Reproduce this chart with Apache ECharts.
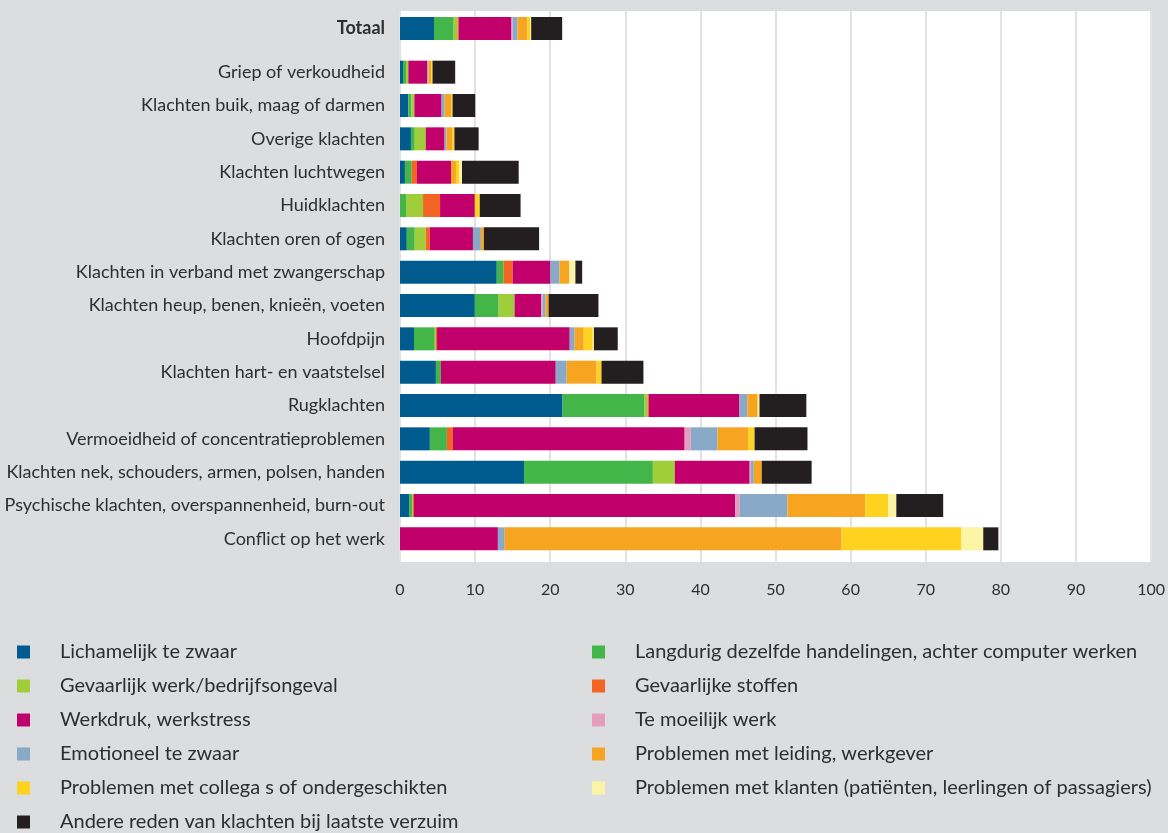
<!DOCTYPE html>
<html>
<head>
<meta charset="utf-8">
<script src="https://cdn.jsdelivr.net/npm/echarts@6/dist/echarts.min.js"></script>
<style>
  html, body { margin: 0; padding: 0; background: #dcdddf; }
  #chart { width: 1168px; height: 833px; }
</style>
</head>
<body>
<div id="chart"></div>
<script>
// ---- DATA ----
const totalLabel = 'Totaal';
const categories = [
  'Griep of verkoudheid',
  'Klachten buik, maag of darmen',
  'Overige klachten',
  'Klachten luchtwegen',
  'Huidklachten',
  'Klachten oren of ogen',
  'Klachten in verband met zwangerschap',
  'Klachten heup, benen, knieën, voeten',
  'Hoofdpijn',
  'Klachten hart- en vaatstelsel',
  'Rugklachten',
  'Vermoeidheid of concentratieproblemen',
  'Klachten nek, schouders, armen, polsen, handen',
  'Psychische klachten, overspannenheid, burn-out',
  'Conflict op het werk'
];
const seriesNames = [
  'Lichamelijk te zwaar',
  'Langdurig dezelfde handelingen, achter computer werken',
  'Gevaarlijk werk/bedrijfsongeval',
  'Gevaarlijke stoffen',
  'Werkdruk, werkstress',
  'Te moeilijk werk',
  'Emotioneel te zwaar',
  'Problemen met leiding, werkgever',
  'Problemen met collega s of ondergeschikten',
  'Problemen met klanten (patiënten, leerlingen of passagiers)',
  'Andere reden van klachten bij laatste verzuim'
];
const seriesColors = ['#005b8f','#44b649','#a0cd3a','#f26522','#c1006b','#e69dbd','#89a9c9','#f7a521','#ffd21f','#fbf4a4','#231f20'];
// first value = Totaal, then the 15 categories in order
const lichamelijk    = [4.5, 0.4, 1.1, 1.45, 0.65, 0, 0.9, 12.8, 9.9, 1.85, 4.75, 21.5, 3.95, 16.4, 1.2, 0];
const langdurig      = [2.6, 0.4, 0.4, 0.5, 0.9, 0.8, 1.05, 0.9, 3.15, 2.75, 0.65, 10.85, 2.25, 17.05, 0.4, 0];
const gevaarlijkWerk = [0.5, 0.3, 0.4, 1.45, 0, 2.25, 1.45, 0, 2.1, 0.15, 0, 0.4, 0, 2.9, 0.1, 0];
const stoffen        = [0.15, 0, 0, 0, 0.7, 2.25, 0.55, 1.2, 0, 0.15, 0, 0.15, 0.8, 0, 0.15, 0];
const werkdruk       = [7.0, 2.5, 3.6, 2.5, 4.5, 4.6, 5.7, 5.0, 3.55, 17.55, 15.2, 12.0, 30.65, 9.9, 42.5, 12.95];
const moeilijk       = [0.15, 0, 0, 0, 0, 0, 0, 0, 0.15, 0, 0, 0, 0.8, 0.15, 0.55, 0];
const emotioneel     = [0.65, 0.15, 0.4, 0.25, 0, 0, 1.05, 1.2, 0.4, 0.65, 1.45, 1.05, 3.55, 0.4, 6.35, 0.9];
const leiding        = [1.3, 0.4, 0.9, 0.8, 0.65, 0, 0.4, 1.3, 0.4, 1.2, 3.95, 1.3, 4.1, 1.05, 10.3, 44.55];
const collega        = [0.35, 0.15, 0.15, 0.25, 0.4, 0.65, 0, 0, 0, 1.2, 0.65, 0.15, 0.8, 0, 3.05, 15.85];
const klanten        = [0.15, 0, 0, 0, 0.4, 0, 0, 0.8, 0, 0.15, 0, 0.15, 0, 0, 1.05, 2.9];
const andere         = [4.1, 3.0, 3.0, 3.2, 7.5, 5.4, 7.3, 0.9, 6.6, 3.15, 5.55, 6.2, 7.0, 6.6, 6.2, 2.0];
const xTicks = [0, 10, 20, 30, 40, 50, 60, 70, 80, 90, 100];

const seriesValues = [lichamelijk, langdurig, gevaarlijkWerk, stoffen, werkdruk, moeilijk, emotioneel, leiding, collega, klanten, andere];

// ---- CHART ----
const FONT = 'Lato';
const TXT = '#2e2e2e';
const chart = echarts.init(document.getElementById('chart'), null, { renderer: 'canvas' });

const series = [];
seriesNames.forEach((name, i) => {
  series.push({
    name, type: 'bar', stack: 'tot', xAxisIndex: 1, yAxisIndex: 1,
    barWidth: 23, itemStyle: { color: seriesColors[i] },
    data: [seriesValues[i][0]], silent: true
  });
  series.push({
    name, type: 'bar', stack: 'cat', xAxisIndex: 2, yAxisIndex: 2,
    barWidth: 23, itemStyle: { color: seriesColors[i] },
    data: seriesValues[i].slice(1), silent: true
  });
});

const leftNames = seriesNames.filter((_, i) => i % 2 === 0);
const rightNames = seriesNames.filter((_, i) => i % 2 === 1);
const legendBase = {
  orient: 'vertical', icon: 'rect', itemWidth: 13, itemHeight: 13, itemGap: 10,
  selectedMode: false, height: 260, padding: 0,
  textStyle: { fontFamily: FONT, fontSize: 20, color: TXT, lineHeight: 24, padding: [0, 0, 0, 25] }
};

chart.setOption({
  backgroundColor: '#dcdddf',
  animation: false,
  grid: [
    { left: 400, right: 12, top: 11, bottom: 271, show: true, backgroundColor: '#ffffff', borderWidth: 0 },
    { left: 400, right: 12, top: 12, height: 33 },
    { left: 400, right: 12, top: 55.5, height: 500 }
  ],
  xAxis: [
    { gridIndex: 0, type: 'value', min: 0, max: 100, interval: 10,
      axisLine: { show: false }, axisTick: { show: false },
      splitLine: { show: true, lineStyle: { color: '#e2e2e2', width: 2 } },
      axisLabel: { fontFamily: FONT, fontSize: 16, color: TXT, margin: 20,
        formatter: v => xTicks.includes(v) ? String(v) : '' } },
    { gridIndex: 1, type: 'value', min: 0, max: 100, show: false },
    { gridIndex: 2, type: 'value', min: 0, max: 100, show: false }
  ],
  yAxis: [
    { gridIndex: 0, type: 'value', show: false },
    { gridIndex: 1, type: 'category', data: [totalLabel],
      axisLine: { show: false }, axisTick: { show: false },
      axisLabel: { fontFamily: FONT, fontSize: 18, fontWeight: 'bold', color: TXT, margin: 15 } },
    { gridIndex: 2, type: 'category', data: categories, inverse: true,
      axisLine: { show: false }, axisTick: { show: false },
      axisLabel: { fontFamily: FONT, fontSize: 18, color: TXT, margin: 15 } }
  ],
  legend: [
    Object.assign({}, legendBase, { left: 17, top: 640, data: leftNames }),
    Object.assign({}, legendBase, { left: 592, top: 640, data: rightNames })
  ],
  series
});
</script>
</body>
</html>
